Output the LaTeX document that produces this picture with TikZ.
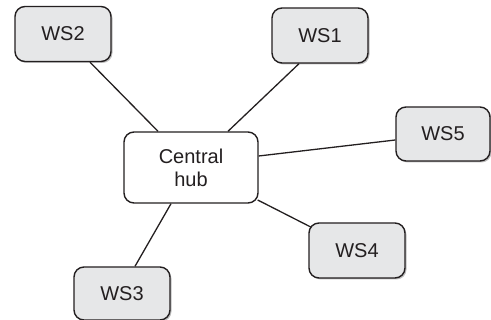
\documentclass[tikz,border=0pt]{standalone}
\usepackage{fontspec}
\setmainfont{Liberation Sans}
\usetikzlibrary{shadows}
\definecolor{boxfill}{HTML}{E6E7E8}
\definecolor{ink}{HTML}{231F20}
\begin{document}
\begin{tikzpicture}[x=1pt,y=-1pt,
  ws/.style={draw=ink, line width=1.4pt, rounded corners=10pt, fill=boxfill,
    minimum width=96pt, minimum height=55pt, inner sep=0pt,
    font=\fontsize{20}{24}\selectfont, text=ink,
    drop shadow={shadow xshift=1.5pt, shadow yshift=-1.5pt, fill=black!25, opacity=1}},
  hubbox/.style={draw=ink, line width=1.4pt, rounded corners=10pt, fill=white,
    minimum width=134pt, minimum height=71pt, inner sep=0pt, align=center,
    font=\fontsize{20}{23}\selectfont, text=ink},
  link/.style={draw=ink, line width=1.3pt}]
\useasboundingbox (0,0) rectangle (491,320);
\node[ws] (ws2) at (63,34) {WS2};
\node[ws] (ws1) at (320,35.5) {WS1};
\node[ws, minimum width=94pt, minimum height=54pt] (ws5) at (443,134) {WS5};
\node[ws] (ws4) at (357,250.5) {WS4};
\node[ws, minimum height=53pt] (ws3) at (122,293.5) {WS3};
\node[hubbox] (hub) at (191,167.5) {Central\\hub};
\draw[link] ([xshift=27pt]ws2.south) -- ([xshift=-33pt]hub.north);
\draw[link] ([xshift=-21pt]ws1.south) -- ([xshift=37pt]hub.north);
\draw[link] ([yshift=-6pt]ws5.west) -- ([yshift=11.5pt]hub.east);
\draw[link] ([xshift=-1pt,yshift=-32.5pt]hub.east) -- ([xshift=3pt,yshift=-5pt]ws4.north west);
\draw[link] ([xshift=-20pt]hub.south) -- ([xshift=13pt]ws3.north);
\end{tikzpicture}
\end{document}
